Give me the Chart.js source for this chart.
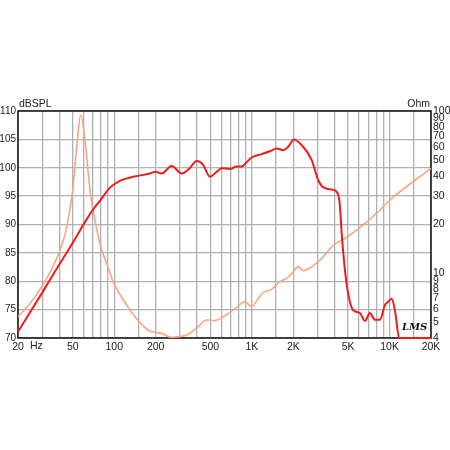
<!DOCTYPE html>
<html>
<head>
<meta charset="utf-8">
<script src="https://cdn.jsdelivr.net/npm/chart.js@4/dist/chart.umd.min.js"></script>
<style>
  html, body { margin: 0; padding: 0; background: #fff; }
  #wrap { width: 450px; height: 450px; }
</style>
</head>
<body>
<div id="wrap"><canvas id="grafico" width="450" height="450"></canvas></div>
<script>
// respuesta SPL (dB)
const splFreq = [20, 30, 40, 50, 63, 70, 80, 93, 110, 137, 182, 200, 221, 261, 309, 350, 397, 440, 496, 550, 603, 693, 775, 843, 910, 995, 1177, 1350, 1513, 1690, 1850, 2020, 2300, 2716, 3033, 3390, 3900, 4240, 4350, 4490, 4875, 5445, 6090, 6620, 7200, 7830, 8510, 9250, 9780, 10350, 10940, 11750, 20000];
const splDb   = [71.1, 78.0, 83.0, 86.8, 90.9, 92.6, 94.4, 96.5, 97.7, 98.4, 99.0, 99.3, 99.0, 100.3, 99.0, 99.8, 101.2, 100.6, 98.4, 99.2, 99.9, 99.8, 100.2, 100.2, 100.9, 101.8, 102.4, 102.9, 103.4, 103.1, 103.8, 105.0, 104.0, 101.4, 97.8, 96.4, 96.1, 95.2, 93.5, 88.4, 79.6, 74.9, 74.4, 73.0, 74.4, 73.2, 73.2, 75.8, 76.4, 76.9, 74.9, 70, 70];

// impedancia (Ohm)
const impFreq = [20, 24.4, 29.7, 35, 40.4, 44, 47, 50, 53.4, 57.1, 61.3, 66.7, 72.5, 80, 90, 98, 115, 137, 160, 182, 198, 221, 261, 300, 336, 370, 408, 469, 539, 620, 700, 775, 891, 995, 1100, 1208, 1391, 1600, 1788, 2000, 2170, 2360, 3033, 4010, 4740, 8050, 10060, 20000];
const impOhm  = [5.41, 6.5, 8.28, 10.6, 13.9, 17.5, 23, 33, 60, 94.4, 66.3, 32.6, 21.3, 14.5, 11, 8.9, 7.0, 5.6, 4.8, 4.4, 4.34, 4.27, 4.04, 4.08, 4.17, 4.4, 4.7, 5.16, 5.12, 5.41, 5.8, 6.18, 6.7, 6.24, 6.9, 7.6, 7.98, 8.9, 9.32, 10.2, 11.0, 10.4, 11.8, 15.2, 16.4, 23.4, 28.3, 44.4];

// etiquetas de ejes
const xTickValues = [20, 50, 100, 200, 500, 1000, 2000, 5000, 10000, 20000];
const xTickLabels = ['20', '50', '100', '200', '500', '1K', '2K', '5K', '10K', '20K'];
const ohmTickValues = [4, 5, 6, 7, 8, 9, 10, 20, 30, 40, 50, 60, 70, 80, 90, 100];

const FONT = '"Liberation Sans", Arial, sans-serif';

const extras = {
    id: 'extras',
    beforeDatasetsDraw(chart) {
        const a = chart.chartArea, c = chart.ctx;
        c.save();
        c.strokeStyle = '#111';
        c.lineWidth = 1.5;
        c.strokeRect(a.left, a.top, a.right - a.left, a.bottom - a.top);
        c.restore();
    },
    afterDraw(chart) {
        const a = chart.chartArea, c = chart.ctx;
        c.save();
        c.fillStyle = '#222';
        c.font = '10.5px ' + FONT;
        c.textBaseline = 'alphabetic';
        c.textAlign = 'left';
        c.fillText('dBSPL', a.left + 1, a.top - 4);
        c.textAlign = 'right';
        c.fillText('Ohm', a.right - 1, a.top - 4);
        c.textAlign = 'left';
        c.textBaseline = 'top';
        c.fillText('Hz', 30, a.bottom + 3);
        // logo
        c.textBaseline = 'middle';
        c.font = 'italic bold 10px "DejaVu Serif", serif';
        c.fillStyle = '#111';
        c.fillText('LMS', a.right - 29, a.bottom - 11);
        c.restore();
    }
};

new Chart(document.getElementById('grafico').getContext('2d'), {
    type: 'line',
    data: {
        datasets: [{
            label: 'SPL',
            data: splFreq.map((f, i) => ({ x: f, y: splDb[i] })),
            borderColor: '#ee1c1c',
            borderWidth: 2,
            pointRadius: 0,
            cubicInterpolationMode: 'monotone',
            yAxisID: 'y',
            clip: 3
        }, {
            label: 'Impedancia',
            data: impFreq.map((f, i) => ({ x: f, y: impOhm[i] })),
            borderColor: '#f7a585',
            borderWidth: 1.6,
            pointRadius: 0,
            cubicInterpolationMode: 'monotone',
            yAxisID: 'y2'
        }]
    },
    options: {
        responsive: false,
        animation: false,
        layout: { padding: { top: 111, left: 0, right: 0, bottom: 0 } },
        plugins: { legend: { display: false }, tooltip: { enabled: false } },
        scales: {
            x: {
                type: 'logarithmic',
                min: 20,
                max: 20000,
                afterFit: s => { s.height = 112; },
                grid: { color: '#b0b0b0', lineWidth: 1.3, drawTicks: false },
                border: { display: false },
                ticks: {
                    autoSkip: false,
                    maxRotation: 0,
                    minRotation: 0,
                    padding: 3,
                    color: '#222',
                    font: { family: FONT, size: 10.5 },
                    callback: v => {
                        const i = xTickValues.indexOf(Number(v));
                        return i >= 0 ? xTickLabels[i] : '';
                    }
                }
            },
            y: {
                type: 'linear',
                position: 'left',
                min: 70,
                max: 110,
                afterFit: s => { s.width = 18; },
                grid: { color: '#b0b0b0', lineWidth: 1.3, drawTicks: false },
                border: { display: false },
                ticks: {
                    stepSize: 5,
                    padding: 2,
                    color: '#222',
                    font: { family: FONT, size: 10 }
                }
            },
            y2: {
                type: 'logarithmic',
                position: 'right',
                min: 4,
                max: 100,
                afterFit: s => { s.width = 19; },
                grid: { display: false, drawTicks: false },
                border: { display: false },
                ticks: {
                    autoSkip: false,
                    padding: 2,
                    color: '#222',
                    font: { family: FONT, size: 10.5 },
                    callback: v => ohmTickValues.includes(Number(v)) ? String(v) : ''
                }
            }
        }
    },
    plugins: [extras]
});
</script>
</body>
</html>
